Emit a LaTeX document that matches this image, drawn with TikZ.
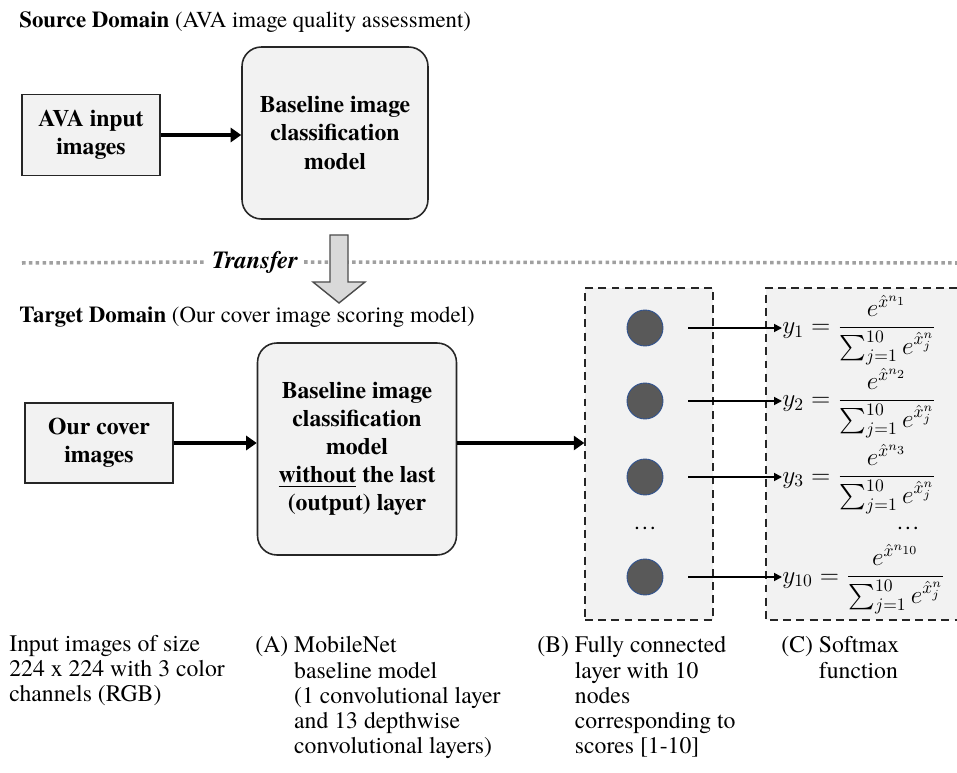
\documentclass[tikz,border=0pt]{standalone}
\usepackage{amsmath}
\usepackage{fontspec}
\setmainfont{TeX Gyre Termes}
\usetikzlibrary{arrows.meta,positioning}
\definecolor{boxgray}{RGB}{242,242,242}
\definecolor{dotgray}{RGB}{160,160,160}
\definecolor{unitgray}{RGB}{89,89,89}
\definecolor{unitblue}{RGB}{47,82,143}
\definecolor{arrowgray}{RGB}{217,217,217}
\newcommand{\boxfont}{\bfseries\fontsize{13.5}{16}\selectfont}
\newcommand{\notefont}{\fontsize{13.5}{14.3}\selectfont}
\tikzset{
  domaintitle/.style={anchor=west, inner sep=0pt, font=\fontsize{13}{15}\selectfont},
  inputbox/.style={draw=black!85, fill=boxgray, line width=0.9pt, align=center, font=\boxfont},
  modelbox/.style={inputbox, rounded corners=11pt},
  layerbox/.style={draw=black!85, fill=boxgray, thick, dash pattern=on 4.5pt off 3pt},
  unit/.style={circle, fill=unitgray, draw=unitblue, line width=0.5pt, minimum size=0.72cm, inner sep=0pt},
  formula/.style={anchor=base west, inner sep=0pt, font=\fontsize{14}{17}\selectfont},
  flow/.style={-{Triangle[length=6pt,width=8pt]}, line width=2.2pt},
  link/.style={-{Triangle[length=4.5pt,width=4.5pt]}, line width=1pt},
  sep/.style={dotgray, line width=2pt, dash pattern=on 2pt off 1.9pt},
  note/.style={anchor=north west, inner sep=0pt, align=left, font=\notefont}
}
\begin{document}
\begin{tikzpicture}[x=0.02cm, y=-0.02cm]
\useasboundingbox (0,0) rectangle (957,773);
% Source domain
\node[domaintitle] (srctitle) at (19,22) {\textbf{Source Domain} (AVA image quality assessment)};
\node[inputbox, minimum width=2.76cm, minimum height=1.62cm] (ava) at (91,135) {AVA input\\images};
\node[modelbox, minimum width=3.72cm, minimum height=3.44cm] (base1) at (335,133) {Baseline image\\classification\\model};
\draw[flow] (ava) -- (ava -| base1.west);
% Transfer
\node[font=\bfseries\itshape\fontsize{14}{16}\selectfont] (transfer) at (255,262) {Transfer};
\draw[sep] (22,263) -- (transfer.west);
\draw[sep] (transfer.east) -- (957,263);
\draw[draw=black!70, fill=arrowgray, line width=0.8pt] (330,235) -- (348,235) -- (348,282) -- (365,282)
  -- (339,303) -- (313,282) -- (330,282) -- cycle;
% Target domain
\node[domaintitle] (tgttitle) at (19,317) {\textbf{Target Domain} (Our cover image scoring model)};
\node[inputbox, minimum width=2.96cm, minimum height=1.6cm] (cover) at (99,443) {Our cover\\images};
\node[modelbox, minimum width=3.98cm, minimum height=4.24cm] (base2) at (357,449)
  {Baseline image\\classification\\model\\\underline{without} the last\\(output) layer};
\node[layerbox, minimum width=2.56cm, minimum height=6.64cm] (fc) at (649,454) {};
\fill[boxgray] (766,288) rectangle (957,620);
\draw[black!85, thick, dash pattern=on 4.5pt off 3pt] (957,288) -- (766,288) -- (766,620) -- (957,620);
\draw[flow] (cover) -- (cover -| base2.west);
\draw[flow] (cover -| base2.east) -- (cover -| fc.west);
% Output nodes and softmax
\foreach \k/\yy in {1/328, 2/401, 3/477, 10/577} {
  \node[unit] (n\k) at (645,\yy) {};
  \node[formula] (y\k) at (782,{\yy+6}) {$y_{\k} = \dfrac{e^{\hat{x}^{n_{\k}}}}{\sum_{j=1}^{10} e^{\hat{x}_j^{n}}}$};
  \draw[link] ([xshift=0.5cm]n\k.east) -- (n\k -| y\k.west);
}
\node[font=\notefont] (fcdots) at (645,528) {\dots};
\node[font=\notefont] (smdots) at (908,528) {\dots};
% Notes
\node[note] (noteinput) at (9,635) {Input images of size\\224 x 224 with 3 color\\channels (RGB)};
\node[note] (notea) at (255,635) {\begin{tabular}{@{}l@{ }l@{}}(A) & MobileNet\\ & baseline model\\ & (1 convolutional layer\\ & and 13 depthwise\\ & convolutional layers)\end{tabular}};
\node[note] (noteb) at (537,635) {\begin{tabular}{@{}l@{ }l@{}}(B) & Fully connected\\ & layer with 10\\ & nodes\\ & corresponding to\\ & scores [1-10]\end{tabular}};
\node[note] (notec) at (781,635) {\begin{tabular}{@{}l@{ }l@{}}(C) & Softmax\\ & function\end{tabular}};
\end{tikzpicture}
\end{document}
